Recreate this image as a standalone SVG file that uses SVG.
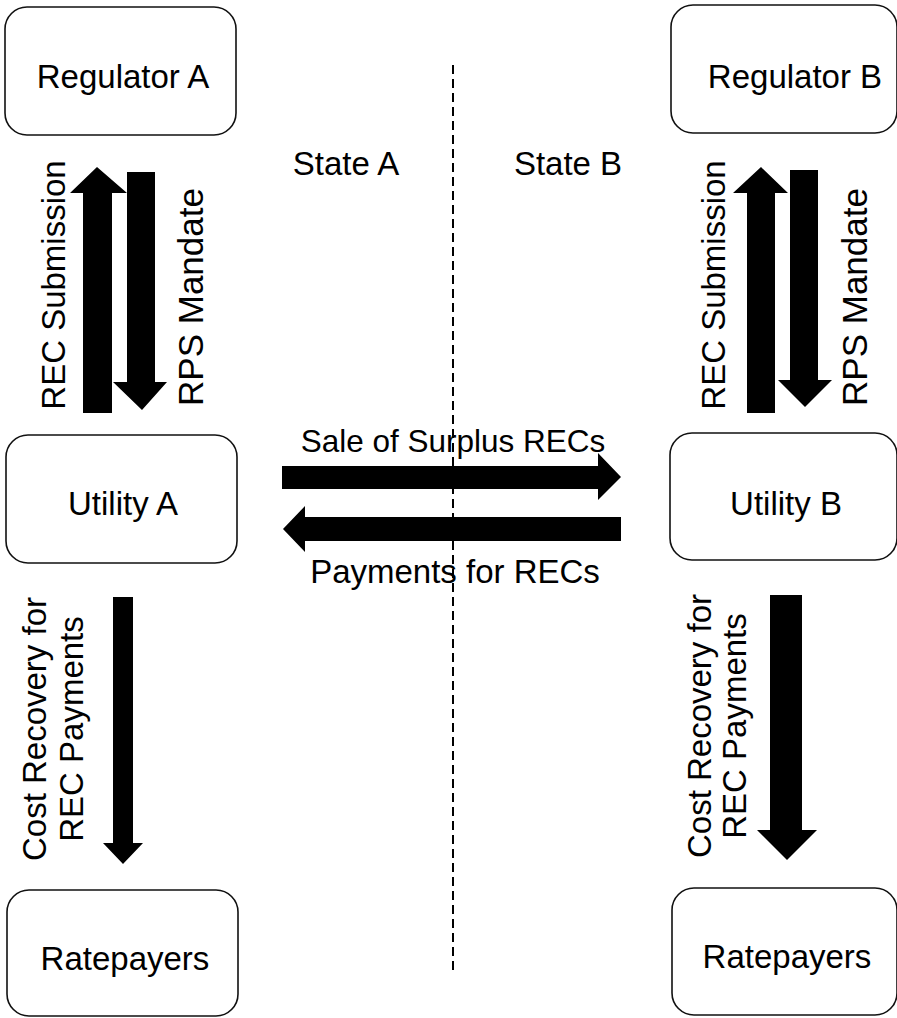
<svg xmlns="http://www.w3.org/2000/svg" width="897" height="1018" viewBox="0 0 897 1018">
<style>
.box{fill:#fff;stroke:#111;stroke-width:1.6}
.t{font-family:"Liberation Sans",Arial,sans-serif;font-size:33px;fill:#000;text-anchor:middle}
.m{font-size:35px}
.s{font-size:31.5px}
.ar{fill:#000}
.dash{stroke:#000;stroke-width:2;stroke-dasharray:9 5;fill:none}
</style>
<rect width="897" height="1018" fill="#fff"/>
<line class="dash" x1="453" y1="65" x2="453" y2="975"/>
<text class="t" x="346" y="175">State A</text>
<text class="t" x="568" y="175">State B</text>
<g id="regulatorA"><rect class="box" x="5" y="7" width="231" height="128" rx="22"/><text class="t" x="123" y="88">Regulator A</text></g>
<g id="regulatorB"><rect class="box" x="671" y="5" width="226" height="128" rx="22"/><text class="t" x="795" y="88">Regulator B</text></g>
<g id="utilityA"><rect class="box" x="6" y="435" width="231" height="128" rx="22"/><text class="t" x="123" y="515">Utility A</text></g>
<g id="utilityB"><rect class="box" x="670" y="433" width="227" height="127" rx="22"/><text class="t" x="786" y="515">Utility B</text></g>
<g id="ratepayersA"><rect class="box" x="7" y="890" width="231" height="126" rx="22"/><text class="t" x="125" y="970">Ratepayers</text></g>
<g id="ratepayersB"><rect class="box" x="672" y="888" width="225" height="127" rx="22"/><text class="t" x="787" y="968">Ratepayers</text></g>
<g id="connectors">
<polygon class="ar" points="83,413 83,193 70,193 97,167 127,193 112,193 112,413"/>
<polygon class="ar" points="127,172 155,172 155,382 167,382 142,410 113,382 127,382"/>
<polygon class="ar" points="747,413 747,193 733,193 761,167 788,193 775,193 775,413"/>
<polygon class="ar" points="790,170 818,170 818,380 832,380 805,407 778,380 790,380"/>
<polygon class="ar" points="282,466 598,466 598,453 621,477 598,500 598,489 282,489"/>
<polygon class="ar" points="621,517 305,517 305,506 283,529 305,552 305,541 621,541"/>
<polygon class="ar" points="113,597 133,597 133,843 143,843 123,864 103,843 113,843"/>
<polygon class="ar" points="770,595 802,595 802,830 817,830 787,860 757,830 770,830"/>
<text class="t" transform="translate(65,285) rotate(-90)">REC Submission</text>
<text class="t m" transform="translate(203,297) rotate(-90)">RPS Mandate</text>
<text class="t" transform="translate(725,285) rotate(-90)">REC Submission</text>
<text class="t m" transform="translate(867,297) rotate(-90)">RPS Mandate</text>
<text class="t s" x="453" y="452">Sale of Surplus RECs</text>
<text class="t" x="455" y="583">Payments for RECs</text>
<text class="t" transform="translate(46,729) rotate(-90)">Cost Recovery for</text>
<text class="t" transform="translate(83,729) rotate(-90)">REC Payments</text>
<text class="t" transform="translate(711,726) rotate(-90)">Cost Recovery for</text>
<text class="t" transform="translate(746,726) rotate(-90)">REC Payments</text>
</g>
</svg>
